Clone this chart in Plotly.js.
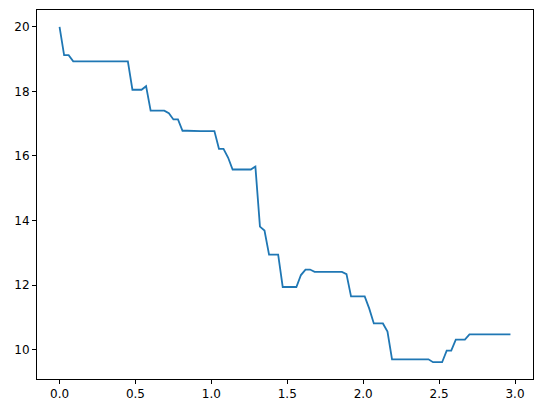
<!DOCTYPE html>
<html>
<head>
<meta charset="utf-8">
<script src="https://cdn.plot.ly/plotly-3.0.1.min.js"></script>
<style>
  html, body { margin: 0; padding: 0; background: #fff; }
  #chart { width: 543px; height: 413px; }
</style>
</head>
<body>
<div id="chart"></div>
<script>
const x_values = [
    0.00, 0.03, 0.06, 0.09, 0.12, 0.15, 0.18, 0.21, 0.24, 0.27,
    0.30, 0.33, 0.36, 0.39, 0.42, 0.45, 0.48, 0.51, 0.54, 0.57,
    0.60, 0.63, 0.66, 0.69, 0.72, 0.75, 0.78, 0.81, 0.84, 0.87,
    0.90, 0.93, 0.96, 0.99, 1.02, 1.05, 1.08, 1.11, 1.14, 1.17,
    1.20, 1.23, 1.26, 1.29, 1.32, 1.35, 1.38, 1.41, 1.44, 1.47,
    1.50, 1.53, 1.56, 1.59, 1.62, 1.65, 1.68, 1.71, 1.74, 1.77,
    1.80, 1.83, 1.86, 1.89, 1.92, 1.95, 1.98, 2.01, 2.04, 2.07,
    2.10, 2.13, 2.16, 2.19, 2.22, 2.25, 2.28, 2.31, 2.34, 2.37,
    2.40, 2.43, 2.46, 2.49, 2.52, 2.55, 2.58, 2.61, 2.64, 2.67,
    2.70, 2.73, 2.76, 2.79, 2.82, 2.85, 2.88, 2.91, 2.94, 2.97
];

const y_values = [
    20.00, 19.12, 19.12, 18.93, 18.93, 18.93, 18.93, 18.93, 18.93, 18.93,
    18.93, 18.93, 18.93, 18.93, 18.93, 18.93, 18.05, 18.05, 18.05, 18.16,
    17.40, 17.40, 17.40, 17.40, 17.32, 17.13, 17.13, 16.78, 16.78, 16.77,
    16.77, 16.77, 16.77, 16.77, 16.77, 16.22, 16.22, 15.95, 15.58, 15.58,
    15.58, 15.58, 15.58, 15.67, 13.81, 13.69, 12.94, 12.94, 12.94, 11.94,
    11.94, 11.94, 11.94, 12.31, 12.48, 12.48, 12.41, 12.41, 12.41, 12.41,
    12.41, 12.41, 12.41, 12.34, 11.65, 11.65, 11.65, 11.65, 11.27, 10.81,
    10.81, 10.81, 10.56, 9.70, 9.70, 9.70, 9.70, 9.70, 9.70, 9.70,
    9.70, 9.70, 9.61, 9.61, 9.61, 9.97, 9.97, 10.31, 10.31, 10.31,
    10.47, 10.47, 10.47, 10.47, 10.47, 10.47, 10.47, 10.47, 10.47, 10.47
];

const x_ticks = [0, 0.5, 1, 1.5, 2, 2.5, 3];
const x_tick_labels = ['0.0', '0.5', '1.0', '1.5', '2.0', '2.5', '3.0'];
const y_ticks = [10, 12, 14, 16, 18, 20];
const y_tick_labels = ['10', '12', '14', '16', '18', '20'];

const trace = {
    x: x_values,
    y: y_values,
    type: 'scatter',
    mode: 'lines',
    line: {color: '#1f77b4', width: 1.8},
    hoverinfo: 'none',
};

const axis_style = {
    showline: true,
    mirror: true,
    linecolor: '#000',
    linewidth: 1,
    showgrid: false,
    zeroline: false,
    ticks: 'outside',
    ticklen: 4,
    tickwidth: 1,
    tickcolor: '#000',
    tickfont: {family: 'DejaVu Sans', size: 12, color: '#000'},
};

const layout = {
    width: 543,
    height: 413,
    margin: {l: 37, r: 10, t: 10, b: 34},
    paper_bgcolor: '#fff',
    plot_bgcolor: '#fff',
    showlegend: false,
    xaxis: {
        ...axis_style,
        range: [-0.1485, 3.1185],
        tickmode: 'array',
        tickvals: x_ticks,
        ticktext: x_tick_labels,
    },
    yaxis: {
        ...axis_style,
        range: [9.09, 20.52],
        tickmode: 'array',
        tickvals: y_ticks,
        ticktext: y_tick_labels,
    },
};

Plotly.newPlot('chart', [trace], layout, {staticPlot: true, displayModeBar: false});
</script>
</body>
</html>
